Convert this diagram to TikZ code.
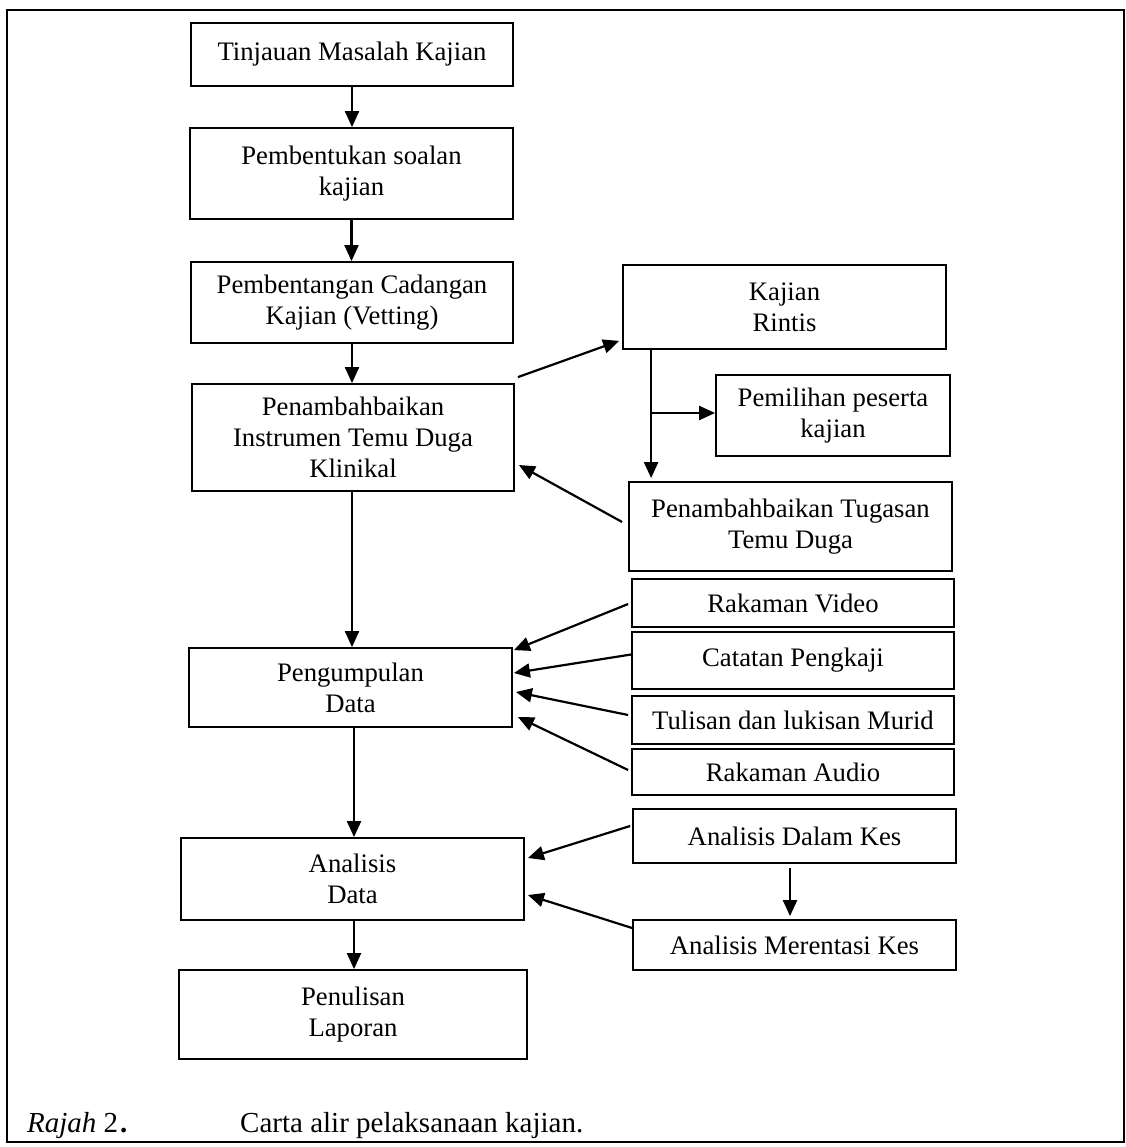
\documentclass[tikz,border=0pt]{standalone}
\usepackage{fontspec}
\setmainfont{Liberation Serif}
\usetikzlibrary{arrows.meta,calc}
\begin{document}
\begin{tikzpicture}[x=1pt,y=-1pt,
  box/.style={draw,line width=1.8pt,inner sep=0pt,align=center,
    font=\fontsize{26.7}{31}\selectfont},
  arr/.style={line width=2.2pt,-{Triangle[length=16pt,width=14pt]}},
  capt/.style={anchor=base west,inner sep=0pt,font=\fontsize{29}{32}\selectfont}]
\useasboundingbox (0,0) rectangle (1125,1147);
\draw[line width=2.4pt] (7,10) rectangle (1124,1142);
% left column
\node[box,minimum width=322pt,minimum height=63pt] (b1) at (352,54.5) {Tinjauan Masalah Kajian};
\node[box,minimum width=323pt,minimum height=91pt] (b2) at (351.5,173.5) {Pembentukan soalan\\kajian};
\node[box,minimum width=322pt,minimum height=81pt] (b3) at (352,302.5) {Pembentangan Cadangan\\Kajian (Vetting)};
\node[box,minimum width=322pt,minimum height=107pt] (b4) at (353,437.5) {Penambahbaikan\\Instrumen Temu Duga\\Klinikal};
\node[box,minimum width=323pt,minimum height=79pt] (pd) at (350.5,687.5) {Pengumpulan\\Data};
\node[box,minimum width=343pt,minimum height=82pt] (ad) at (352.5,879) {Analisis\\Data};
\node[box,minimum width=348pt,minimum height=89pt] (pl) at (353,1014.5) {Penulisan\\Laporan};
% right column
\node[box,minimum width=323pt,minimum height=84pt] (kr) at (784.5,307) {Kajian\\Rintis};
\node[box,minimum width=234pt,minimum height=81pt] (pp) at (833,415.5) {Pemilihan peserta\\kajian};
\node[box,minimum width=323pt,minimum height=89pt] (pt) at (790.5,526.5) {Penambahbaikan Tugasan\\Temu Duga};
\node[box,minimum width=322pt,minimum height=48pt] (rv) at (793,603) {Rakaman Video};
\node[box,minimum width=322pt,minimum height=57pt] (cp) at (793,660.5) {Catatan Pengkaji};
\node[box,minimum width=322pt,minimum height=48pt] (tl) at (793,720) {Tulisan dan lukisan Murid};
\node[box,minimum width=322pt,minimum height=46pt] (ra) at (793,772) {Rakaman Audio};
\node[box,minimum width=323pt,minimum height=54pt] (adk) at (794.5,836) {Analisis Dalam Kes};
\node[box,minimum width=323pt,minimum height=50pt] (amk) at (794.5,945) {Analisis Merentasi Kes};
% caption
\node[capt] (cap1) at (27,1132) {\textit{Rajah} 2\hspace{2pt}\textbf{.}};
\node[capt] (cap2) at (240,1132) {Carta alir pelaksanaan kajian.};
% vertical flow
\draw[arr] (b1.south) -- (b1.south|-b2.north);
\draw[arr] (b2.south) -- (b2.south|-b3.north);
\draw[arr] (b3.south) -- (b3.south|-b4.north);
\draw[arr] ($(b4.south)+(-1,0)$) coordinate (b4s) -- (b4s|-pd.north);
\draw[arr] ($(pd.south)+(3.5,0)$) coordinate (pds) -- (pds|-ad.north);
\draw[arr] ($(ad.south)+(1.5,0)$) coordinate (ads) -- (ads|-pl.north);
% pilot study branch
\draw[arr] ($(b4.north east)+(3,-6)$) -- ($(kr.south west)+(-3,-9)$);
\draw[arr] ($(pt.west)+(-6,-4.5)$) -- ($(b4.east)+(4,27.5)$);
\coordinate (kv) at ($(kr.south west)+(29,0)$);
\draw[arr] (kv) -- ($(kv|-pt.north)+(0,-3)$);
\draw[arr] ($(kv|-pp.west)+(0,-2.5)$) -- ($(pp.west)+(0,-2.5)$);
% data sources
\draw[arr] ($(rv.west)+(-3,1)$) -- ($(pd.north east)+(1,3)$);
\draw[arr] ($(cp.west)+(0,-6)$) -- ($(pd.east)+(1,-14.5)$);
\draw[arr] ($(tl.west)+(-3,-5)$) -- ($(pd.east)+(3,4.5)$);
\draw[arr] ($(ra.west)+(-3,-2)$) -- ($(pd.east)+(5,29.5)$);
% analysis
\draw[arr] ($(adk.west)+(-2,-10)$) -- ($(ad.east)+(3,-21)$);
\draw[arr] ($(amk.west)+(0,-17)$) -- ($(ad.east)+(3,16)$);
\draw[arr] ($(adk.south)+(-4.5,4)$) coordinate (adks) -- ($(adks|-amk.north)+(0,-3)$);
\end{tikzpicture}
\end{document}
